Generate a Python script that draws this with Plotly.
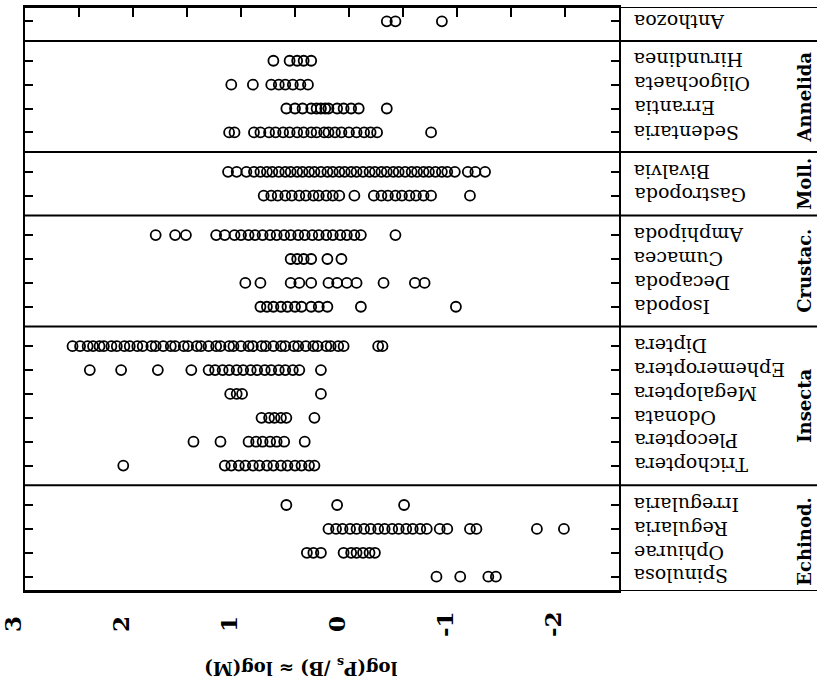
import plotly.graph_objects as go

# ---- data (log(Ps/B) values per taxon) ----
groups = ["Echinod.", "Insecta", "Crustac.", "Moll.", "Annelida", ""]
group_members = [
    ["Spinulosa", "Ophiurae", "Regularia", "Irregularia"],
    ["Trichoptera", "Plecoptera", "Odonata", "Megaloptera", "Ephemeroptera", "Diptera"],
    ["Isopoda", "Decapoda", "Cumacea", "Amphipoda"],
    ["Gastropoda", "Bivalvia"],
    ["Sedentaria", "Errantia", "Oligochaeta", "Hirundinea"],
    ["Anthozoa"],
]

spinulosa = [-0.81, -1.03, -1.29, -1.36]
ophiurae = [0.39, 0.33, 0.26, 0.05, -0.02, -0.07, -0.13, -0.19, -0.24]
regularia = [0.19, 0.12, 0.06, -0.01, -0.07, -0.14, -0.20, -0.27, -0.33, -0.40, -0.46,
             -0.53, -0.59, -0.66, -0.72, -0.84, -0.91, -1.12, -1.18, -1.74, -1.99]
irregularia = [0.58, 0.11, -0.51]
trichoptera = [2.09, 1.15, 1.09, 1.02, 0.96, 0.89, 0.83, 0.76, 0.70, 0.63, 0.57, 0.50, 0.44, 0.37, 0.32]
plecoptera = [1.44, 1.19, 0.93, 0.86, 0.80, 0.73, 0.67, 0.60, 0.41]
odonata = [0.81, 0.74, 0.69, 0.63, 0.58, 0.32]
megaloptera = [1.10, 1.04, 0.99, 0.26]
ephemeroptera = [2.40, 2.11, 1.77, 1.46, 1.30, 1.24, 1.17, 1.11, 1.04, 0.98, 0.91, 0.85,
                 0.78, 0.72, 0.65, 0.59, 0.52, 0.46, 0.26]
diptera = [2.56, 2.49, 2.42, 2.37, 2.31, 2.27, 2.20, 2.15, 2.08, 2.03, 1.96, 1.91, 1.83, 1.79,
           1.72, 1.65, 1.61, 1.53, 1.49, 1.41, 1.37, 1.30, 1.23, 1.19, 1.11, 1.07, 1.00, 0.93,
           0.89, 0.81, 0.77, 0.70, 0.63, 0.59, 0.51, 0.47, 0.40, 0.33, 0.29, 0.21, 0.17, 0.10,
           0.05, -0.27, -0.31]
isopoda = [0.82, 0.76, 0.70, 0.63, 0.57, 0.50, 0.44, 0.35, 0.28, 0.20, -0.11, -0.99]
decapoda = [0.96, 0.82, 0.54, 0.46, 0.35, 0.19, 0.11, 0.02, -0.07, -0.32, -0.61, -0.70]
cumacea = [0.54, 0.48, 0.42, 0.35, 0.20, 0.07]
amphipoda = [1.79, 1.61, 1.51, 1.23, 1.15, 1.06, 1.00, 0.93, 0.87, 0.80, 0.73, 0.67, 0.60,
             0.54, 0.47, 0.41, 0.34, 0.28, 0.21, 0.15, 0.08, 0.02, -0.05, -0.11, -0.43]
gastropoda = [0.79, 0.72, 0.66, 0.59, 0.53, 0.46, 0.40, 0.33, 0.28, 0.21, 0.15, 0.09, -0.05,
              -0.23, -0.30, -0.36, -0.43, -0.49, -0.56, -0.62, -0.69, -0.76, -1.12]
bivalvia = [1.12, 1.04, 0.95, 0.88, 0.82, 0.76, 0.71, 0.65, 0.59, 0.54, 0.48, 0.43, 0.37, 0.32,
            0.26, 0.20, 0.15, 0.09, 0.04, -0.02, -0.07, -0.13, -0.19, -0.24, -0.30, -0.35,
            -0.41, -0.46, -0.52, -0.58, -0.63, -0.69, -0.74, -0.80, -0.86, -0.91, -0.98,
            -1.10, -1.17, -1.26]
sedentaria = [1.11, 1.06, 0.88, 0.82, 0.74, 0.68, 0.61, 0.55, 0.48, 0.42, 0.35, 0.30, 0.23,
              0.19, 0.13, 0.07, 0.00, -0.07, -0.14, -0.20, -0.26, -0.76]
errantia = [0.58, 0.50, 0.43, 0.35, 0.30, 0.26, 0.22, 0.19, 0.11, 0.05, -0.02, -0.09, -0.35]
oligochaeta = [1.09, 0.89, 0.72, 0.65, 0.59, 0.52, 0.45, 0.38]
hirundinea = [0.70, 0.55, 0.48, 0.42, 0.35]
anthozoa = [-0.35, -0.43, -0.86]

values = {
    "Spinulosa": spinulosa, "Ophiurae": ophiurae, "Regularia": regularia,
    "Irregularia": irregularia, "Trichoptera": trichoptera, "Plecoptera": plecoptera,
    "Odonata": odonata, "Megaloptera": megaloptera, "Ephemeroptera": ephemeroptera,
    "Diptera": diptera, "Isopoda": isopoda, "Decapoda": decapoda, "Cumacea": cumacea,
    "Amphipoda": amphipoda, "Gastropoda": gastropoda, "Bivalvia": bivalvia,
    "Sedentaria": sedentaria, "Errantia": errantia, "Oligochaeta": oligochaeta,
    "Hirundinea": hirundinea, "Anthozoa": anthozoa,
}

x_tick_labels = [3, 2, 1, 0, -1, -2]
axis_title = "log(P<sub>s</sub> /B) ≈ log(M)"

# ---- layout of the category axis (positions computed from the group structure) ----
step, gap, start = 1.0, 1.65, 0.6
pos = {}
seps = []
group_centers = []
y = start
for gi, members in enumerate(group_members):
    if gi > 0:
        seps.append(y - step + gap / 2)
        y = y - step + gap
    first = y
    for m in members:
        pos[m] = y
        y += step
    group_centers.append((first + y - step) / 2)
ymax = y - step + 0.6

SERIF = "DejaVu Serif"
fig = go.Figure()
for name, vals in values.items():
    fig.add_trace(go.Scatter(
        x=vals, y=[pos[name]] * len(vals), mode="markers", name=name,
        marker=dict(symbol="circle-open", size=10, color="black", line=dict(width=1.8, color="black")),
        showlegend=False, cliponaxis=False,
    ))

shapes = []
for s in seps + [0, ymax]:
    shapes.append(dict(type="line", xref="paper", yref="y", x0=0, x1=1.34, y0=s, y1=s,
                       line=dict(color="black", width=2)))

annotations = []
for name, p in pos.items():
    annotations.append(dict(text=name, xref="paper", yref="y", x=1, y=p, xshift=13,
                            xanchor="left", yanchor="middle", textangle=180, showarrow=False,
                            font=dict(family=SERIF, size=19, color="black")))
for g, c in zip(groups, group_centers):
    if g:
        annotations.append(dict(text="<b>%s</b>" % g, xref="paper", yref="y", x=1.313, y=c,
                                xanchor="center", yanchor="middle", textangle=-90, showarrow=False,
                                font=dict(family=SERIF, size=18, color="black")))
for v in x_tick_labels:
    annotations.append(dict(text="<b>%d</b>" % v, xref="x", yref="paper", x=v, y=0, xshift=-13,
                            yshift=-33, xanchor="center", yanchor="middle", textangle=-90,
                            showarrow=False, font=dict(family=SERIF, size=23, color="black")))
annotations.append(dict(text="<b>%s</b>" % axis_title, xref="paper", yref="paper", x=0.465, y=0,
                        yshift=-76, xanchor="center", yanchor="middle", textangle=180,
                        showarrow=False, font=dict(family=SERIF, size=18, color="black")))

fig.update_layout(
    width=817, height=692, margin=dict(l=25, r=198, t=7, b=101),
    paper_bgcolor="white", plot_bgcolor="white",
    shapes=shapes, annotations=annotations,
    xaxis=dict(range=[3, -2.5], side="top", tickvals=[2.5, 2, 1.5, 1, 0.5, 0, -0.5, -1, -1.5, -2],
               showticklabels=False, ticks="inside", ticklen=10, tickwidth=2, tickcolor="black",
               showline=True, linecolor="black", linewidth=2, mirror=True,
               showgrid=False, zeroline=False),
    yaxis=dict(range=[0, ymax], tickvals=list(pos.values()), showticklabels=False,
               ticks="inside", ticklen=8, tickwidth=2, tickcolor="black", showline=True,
               linecolor="black", linewidth=2, mirror="ticks", showgrid=False, zeroline=False),
)
fig.write_html("out.html")
